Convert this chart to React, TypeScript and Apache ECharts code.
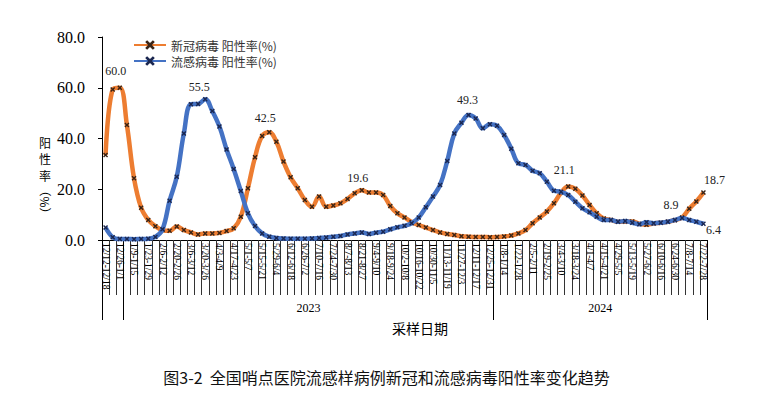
import React, { useEffect, useRef } from "react";
import * as echarts from "echarts";

const weekLabels: string[] = [
  "12/12-12/18", "12/19-12/25", "12/26-1/1",
  "1/2-1/8", "1/9-1/15", "1/16-1/22", "1/23-1/29", "1/30-2/5", "2/6-2/12", "2/13-2/19", "2/20-2/26",
  "2/27-3/5", "3/6-3/12", "3/13-3/19", "3/20-3/26", "3/27-4/2", "4/3-4/9", "4/10-4/16", "4/17-4/23",
  "4/24-4/30", "5/1-5/7", "5/8-5/14", "5/15-5/21", "5/22-5/28", "5/29-6/4", "6/5-6/11", "6/12-6/18",
  "6/19-6/25", "6/26-7/2", "7/3-7/9", "7/10-7/16", "7/17-7/23", "7/24-7/30", "7/31-8/6", "8/7-8/13",
  "8/14-8/20", "8/21-8/27", "8/28-9/3", "9/4-9/10", "9/11-9/17", "9/18-9/24", "9/25-10/1", "10/2-10/8",
  "10/9-10/15", "10/16-10/22", "10/23-10/29", "10/30-11/5", "11/6-11/12", "11/13-11/19", "11/20-11/26",
  "11/27-12/3", "12/4-12/10", "12/11-12/17", "12/18-12/24", "12/25-12/31",
  "1/1-1/7", "1/8-1/14", "1/15-1/21", "1/22-1/28", "1/29-2/4", "2/5-2/11", "2/12-2/18", "2/19-2/25",
  "2/26-3/3", "3/4-3/10", "3/11-3/17", "3/18-3/24", "3/25-3/31", "4/1-4/7", "4/8-4/14", "4/15-4/21",
  "4/22-4/28", "4/29-5/5", "5/6-5/12", "5/13-5/19", "5/20-5/26", "5/27-6/2", "6/3-6/9", "6/10-6/16",
  "6/17-6/23", "6/24-6/30", "7/1-7/7", "7/8-7/14", "7/15-7/21", "7/22-7/28",
];

const covidRate: number[] = [
  33.5, 59.3, 60.0, 45.3, 24.3, 12.7, 7.9, 5.4, 3.9, 3.6,
  5.3, 3.9, 3.0, 2.2, 2.6, 2.6, 2.8, 3.5, 4.6, 9.2,
  20.4, 32.6, 41.0, 42.5, 38.7, 30.9, 24.7, 20.4, 15.8, 13.1,
  17.1, 13.1, 13.6, 14.5, 16.2, 18.4, 19.6, 18.7, 18.7, 17.7,
  13.4, 10.5, 8.9, 7.1, 5.9, 4.9, 3.9, 3.0, 2.4, 2.0,
  1.5, 1.3, 1.2, 1.2, 1.1, 1.2, 1.4, 1.8, 2.6, 3.9,
  6.6, 8.9, 11.2, 14.5, 18.6, 21.1, 20.2, 17.5, 13.8, 10.5,
  8.5, 7.9, 7.2, 7.2, 7.3, 6.4, 6.0, 6.5, 6.8, 7.2,
  7.8, 8.9, 12.3, 15.2, 18.7,
];

const fluRate: number[] = [
  4.9, 1.1, 0.4, 0.4, 0.3, 0.4, 0.5, 1.2, 4.2, 15.5,
  24.9, 42.0, 53.5, 53.6, 55.5, 50.8, 44.7, 35.7, 28.0, 19.3,
  10.5, 5.5, 2.6, 1.3, 0.8, 0.6, 0.5, 0.5, 0.5, 0.6,
  0.8, 1.0, 1.3, 1.6, 2.2, 2.6, 3.0, 2.4, 2.9, 3.3,
  4.2, 5.0, 5.6, 6.6, 8.9, 12.9, 17.1, 21.7, 31.1, 42.0,
  46.2, 49.3, 47.9, 44.0, 45.6, 45.0, 41.4, 36.0, 30.2, 29.6,
  27.3, 26.3, 23.0, 19.4, 19.0, 17.7, 15.1, 12.5, 10.9, 9.2,
  7.9, 7.9, 7.2, 7.5, 6.8, 6.2, 7.0, 6.6, 6.8, 7.2,
  7.9, 8.7, 7.9, 7.2, 6.4,
];

const yearNames: string[] = ["2022", "2023", "2024"];
const yearWeeks: number[] = [3, 52, 30];

const covidLabelled: number[] = [2, 23, 36, 65, 81, 84];
const fluLabelled: number[] = [14, 51, 84];

const seriesNames = ["新冠病毒 阳性率(%)", "流感病毒 阳性率(%)"];
const titleText = "图3-2  全国哨点医院流感样病例新冠和流感病毒阳性率变化趋势";
const yNameChars = ["阳", "性", "率"];
const yNameUnit = "（%）";
const xName = "采样日期";

const labelOffsets: Record<string, number[]> = {
  "c2": [-4, -3], "c23": [-4, -1], "c36": [-4, 1], "c65": [-4, -3], "c81": [-11, 1], "c84": [11, 1],
  "f14": [-6, 1], "f51": [-1, -1], "f84": [10, 20],
};

const SERIF = '"Liberation Serif", "DejaVu Serif", serif';
const CJK = '"Noto Sans CJK SC", sans-serif';
const xSymbol = "path://M0,2 L2,0 L5,3 L8,0 L10,2 L7,5 L10,8 L8,10 L5,7 L2,10 L0,8 L3,5 Z";

function buildData(values: number[], labelled: number[], key: string) {
  return values.map((v, i) => {
    if (labelled.indexOf(i) < 0) return v;
    return {
      value: v,
      label: {
        show: true,
        position: "top",
        offset: labelOffsets[key + i] || [0, 0],
        fontSize: 12,
        fontFamily: SERIF,
        color: "#222",
        formatter: (p: any) => Number(p.value).toFixed(1),
      },
    };
  });
}

export default function App() {
  const ref = useRef<HTMLDivElement>(null);
  useEffect(() => {
    if (!ref.current) return;
    const chart = echarts.init(ref.current, undefined, { renderer: "svg" });

    const bounds: number[] = [0];
    yearWeeks.forEach((w, i) => bounds.push(bounds[i] + w));
    const total = bounds[bounds.length - 1];
    const centers: number[] = [];
    const centerNames: Record<string, string> = {};
    yearWeeks.forEach((w, i) => {
      if (w >= 10) {
        const c = bounds[i] + w / 2;
        centers.push(c);
        centerNames[String(c)] = yearNames[i];
      }
    });

    const yNameGraphics: any[] = yNameChars.map((ch, i) => ({
      type: "text",
      x: 45,
      y: 142 + i * 16.5,
      style: {
        text: ch,
        fontSize: 12,
        lineHeight: 12,
        fontFamily: CJK,
        align: "center",
        verticalAlign: "middle",
        fill: "#000",
      },
    }));

    chart.setOption({
      animation: false,
      backgroundColor: "#fff",
      title: {
        text: titleText,
        left: "center",
        top: 369,
        padding: 0,
        textStyle: { fontSize: 16, fontWeight: "normal", fontFamily: CJK, color: "#111" },
      },
      legend: {
        left: 133,
        top: 39,
        orient: "vertical",
        itemWidth: 32,
        itemHeight: 12,
        itemGap: 4,
        padding: 0,
        textStyle: { fontSize: 12, fontFamily: CJK, color: "#333" },
        data: seriesNames,
      },
      grid: { left: 102, right: 66, top: 37, bottom: 157, outerBoundsMode: "none" },
      xAxis: [
        {
          type: "category",
          data: weekLabels,
          boundaryGap: true,
          axisLine: { show: true, lineStyle: { color: "#000", width: 1 } },
          axisTick: { show: true, interval: 0, length: 55, lineStyle: { color: "#333", width: 1 } },
          axisLabel: {
            interval: 1,
            rotate: -90,
            margin: 3,
            fontSize: 9.5,
            fontFamily: SERIF,
            color: "#000",
          },
          splitLine: { show: false },
        },
        {
          type: "value",
          position: "bottom",
          min: 0,
          max: total,
          axisLine: { show: false },
          splitLine: { show: false },
          axisTick: { show: true, customValues: bounds, length: 80, lineStyle: { color: "#000", width: 1 } },
          axisLabel: {
            show: true,
            customValues: centers,
            margin: 62,
            fontSize: 12,
            fontFamily: SERIF,
            color: "#000",
            formatter: (v: number) => centerNames[String(v)] || "",
          },
        },
      ],
      yAxis: {
        type: "value",
        min: 0,
        max: 80,
        interval: 20,
        axisLine: { show: true, lineStyle: { color: "#000", width: 1 } },
        axisTick: { show: true, length: 4, lineStyle: { color: "#000" } },
        axisLabel: {
          margin: 17,
          fontSize: 16,
          fontFamily: SERIF,
          color: "#000",
          formatter: (v: number) => v.toFixed(1),
        },
        splitLine: { show: false },
      },
      graphic: [
        ...yNameGraphics,
        {
          type: "text",
          x: 45,
          y: 202,
          rotation: -Math.PI / 2,
          originX: 0,
          originY: 0,
          style: {
            text: yNameUnit,
            fontSize: 12,
            lineHeight: 13,
            fontFamily: CJK,
            align: "center",
            verticalAlign: "middle",
            fill: "#000",
          },
        },
        {
          type: "text",
          x: 420,
          y: 328,
          style: {
            text: xName,
            fontSize: 14,
            fontFamily: CJK,
            align: "center",
            verticalAlign: "middle",
            fill: "#000",
          },
        },
      ],
      series: [
        {
          name: seriesNames[0],
          type: "line",
          data: buildData(covidRate, covidLabelled, "c"),
          smooth: 0.4,
          symbol: xSymbol,
          symbolSize: 5,
          showAllSymbol: true,
          lineStyle: { width: 4.5, color: "#ED7D31" },
          itemStyle: { color: "#3a2416" },
          z: 2,
        },
        {
          name: seriesNames[1],
          type: "line",
          data: buildData(fluRate, fluLabelled, "f"),
          smooth: 0.4,
          symbol: xSymbol,
          symbolSize: 5,
          showAllSymbol: true,
          lineStyle: { width: 4.5, color: "#4472C4" },
          itemStyle: { color: "#1b2750" },
          z: 3,
        },
      ],
    });
    return () => chart.dispose();
  }, []);
  return (
    <div
      ref={ref}
      style={{ position: "fixed", left: 0, top: 0, width: 773, height: 397, background: "#fff" }}
    />
  );
}
